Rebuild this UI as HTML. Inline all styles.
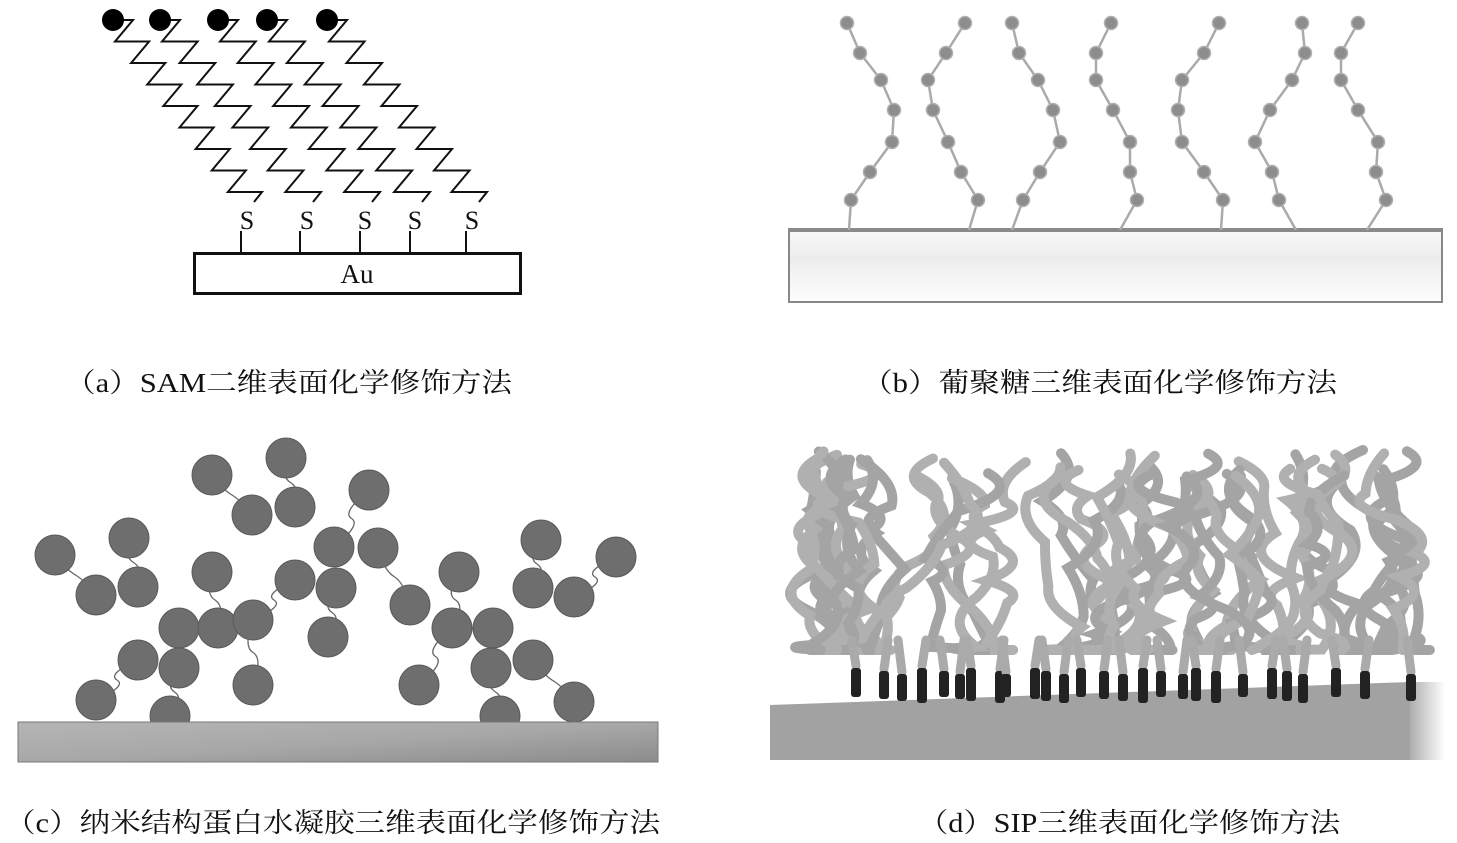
<!DOCTYPE html>
<html><head><meta charset="utf-8">
<style>
html,body{margin:0;padding:0;background:#fff;}
svg{display:block;}
.cap{font-family:"Liberation Serif","Noto Serif CJK SC",serif;font-size:27px;fill:#111;}
</style></head>
<body>
<svg id="s" width="1457" height="843" viewBox="0 0 1457 843" xmlns="http://www.w3.org/2000/svg">
<defs>
<linearGradient id="barc" x1="0" y1="0" x2="1" y2="1">
<stop offset="0" stop-color="#b5b5b5"/><stop offset="0.5" stop-color="#a8a8a8"/><stop offset="1" stop-color="#8c8c8c"/>
</linearGradient>
<linearGradient id="side" x1="0" y1="0" x2="1" y2="0">
<stop offset="0" stop-color="#a2a2a2"/><stop offset="1" stop-color="#ffffff"/>
</linearGradient>
<linearGradient id="bsurf" x1="0" y1="0" x2="0" y2="1">
<stop offset="0" stop-color="#fafafa"/><stop offset="0.4" stop-color="#ececec"/><stop offset="0.6" stop-color="#f3f3f3"/><stop offset="1" stop-color="#fdfdfd"/>
</linearGradient>
</defs>
<g id="a"></g>
<g font-family="Liberation Serif, serif" font-size="26" fill="#111" text-anchor="middle">
<text x="247" y="229">S</text><text x="307" y="229">S</text><text x="365" y="229">S</text><text x="415" y="229">S</text><text x="472" y="229">S</text>
</g>
<g stroke="#111" stroke-width="2">
<line x1="241" y1="231" x2="241" y2="253"/><line x1="300" y1="231" x2="300" y2="253"/><line x1="360" y1="231" x2="360" y2="253"/><line x1="410" y1="231" x2="410" y2="253"/><line x1="466" y1="231" x2="466" y2="253"/>
</g>
<rect x="194.5" y="253.5" width="326" height="40" fill="#fff" stroke="#111" stroke-width="3"/>
<text x="357" y="283" font-family="Liberation Serif, serif" font-size="27" text-anchor="middle" fill="#111">Au</text>

<rect x="789" y="229" width="653" height="73" fill="url(#bsurf)" stroke="#888" stroke-width="2"/>
<line x1="789" y1="230" x2="1442" y2="230" stroke="#8a8a8a" stroke-width="4"/>
<g id="b"></g>

<g id="c"></g>
<rect x="18" y="722" width="640" height="40" fill="url(#barc)" stroke="#777" stroke-width="1"/>

<polygon points="1405,682 1445,682 1445,760 1405,760" fill="url(#side)"/>
<polygon points="770,705 1410,682 1410,760 770,760" fill="#a2a2a2"/>
<g id="d"></g>

<text class="cap" x="65" y="392" textLength="447" lengthAdjust="spacingAndGlyphs">（a）SAM二维表面化学修饰方法</text>
<text class="cap" x="862" y="392" textLength="475" lengthAdjust="spacingAndGlyphs">（b）葡聚糖三维表面化学修饰方法</text>
<text class="cap" x="5" y="832" textLength="655" lengthAdjust="spacingAndGlyphs">（c）纳米结构蛋白水凝胶三维表面化学修饰方法</text>
<text class="cap" x="918" y="832" textLength="422" lengthAdjust="spacingAndGlyphs">（d）SIP三维表面化学修饰方法</text>
</svg>
<script>
var NS="http://www.w3.org/2000/svg";
function el(p,t,a){var e=document.createElementNS(NS,t);for(var k in a)e.setAttribute(k,a[k]);document.getElementById(p).appendChild(e);return e;}
var cx=[113,160,218,267,327],sx=[244,303,362,412,469];
for(var i=0;i<5;i++){
  var h=(sx[i]-cx[i]-2)/8+18;
  var x=cx[i],y=20,pts=[[x,y]];x+=20;pts.push([x,y]);
  for(var k=0;k<8;k++){x-=18;y+=21.5;pts.push([x,y]);x+=h;pts.push([x,y]);}
  x-=8;y+=10;pts.push([x,y]);
  el("a","polyline",{points:pts.map(function(p){return p.join(",")}).join(" "),fill:"none",stroke:"#111","stroke-width":2});
}
for(var i=0;i<5;i++)el("a","circle",{cx:cx[i],cy:20,r:11,fill:"#000"});
var B=[[847,860,881,894,892,870,851,849],[965,946,928,933,948,961,978,969],[1012,1019,1038,1053,1060,1040,1023,1012],[1111,1096,1096,1113,1130,1130,1137,1120],[1219,1204,1182,1178,1182,1204,1223,1221],[1302,1305,1292,1270,1255,1272,1279,1296],[1358,1341,1341,1358,1378,1376,1386,1367]];
var BY=[23,53,80,110,142,172,200,230];
B.forEach(function(c){
  var d="M"+c[0]+","+BY[0];for(var j=1;j<8;j++)d+=" L"+c[j]+","+BY[j];
  el("b","path",{d:d,fill:"none",stroke:"#aaa","stroke-width":2.5});
  for(var j=0;j<7;j++)el("b","circle",{cx:c[j],cy:BY[j],r:6.5,fill:"#8d8d8d",stroke:"#b0b0b0","stroke-width":1.5});
});
var C=[[55,555],[129,538],[96,595],[138,587],[212,475],[286,458],[252,515],[295,507],[369,490],[334,547],[378,548],[212,572],[295,580],[336,588],[179,628],[218,628],[253,620],[138,660],[179,668],[96,700],[170,716],[253,685],[328,637],[410,605],[459,572],[452,628],[493,628],[541,540],[616,557],[533,588],[574,597],[533,660],[491,668],[419,685],[574,702],[500,716]];
var L=[[55,555,96,595],[129,538,138,587],[212,475,252,515],[286,458,295,507],[369,490,334,547],[212,572,218,628],[253,620,253,685],[336,588,328,637],[138,660,96,700],[179,668,170,716],[378,548,410,605],[459,572,452,628],[541,540,533,588],[616,557,574,597],[533,660,574,702],[491,668,500,716],[452,628,419,685],[295,580,253,620]];
L.forEach(function(l){var mx=(l[0]+l[2])/2,my=(l[1]+l[3])/2;
 el("c","path",{d:"M"+l[0]+","+l[1]+" Q"+(mx-10)+","+(my-6)+" "+mx+","+my+" T"+l[2]+","+l[3],fill:"none",stroke:"#666","stroke-width":1.3});});
C.forEach(function(p){el("c","ellipse",{cx:p[0],cy:p[1],rx:20,ry:20,fill:"#6e6e6e",stroke:"#5a5a5a","stroke-width":1});});
var seed=7;function R(){seed=(seed*16807)%2147483647;return (seed-1)/2147483646;}
for(var i=0;i<55;i++){
  var x=815+R()*595,y=450+R()*35,d="M"+x.toFixed(1)+","+y.toFixed(1);
  for(var k=0;k<6;k++){var nx=x+(R()-0.5)*70,ny=y+22+R()*28;if(nx<810)nx=810;if(nx>1415)nx=1415;if(ny>650)ny=650;
    d+=" Q"+(x+(R()-0.5)*80).toFixed(1)+","+((y+ny)/2).toFixed(1)+" "+nx.toFixed(1)+","+ny.toFixed(1);x=nx;y=ny;}
  el("d","path",{d:d,fill:"none",stroke:(R()<0.5?"#b0b0b0":"#a4a4a4"),"stroke-width":10,"stroke-linecap":"round"});
}
var P=[856,884,902,922,944,960,971,1000,1006,1035,1046,1064,1081,1104,1123,1143,1161,1183,1196,1216,1243,1272,1287,1303,1336,1365,1411];
P.forEach(function(x,i){var t=668+(i%3)*3,b=697+(i%4)*2;
  el("d","line",{x1:x,y1:t-2,x2:x+(i%2?4:-4),y2:640,stroke:"#aaa","stroke-width":9,"stroke-linecap":"round"});
  el("d","rect",{x:x-5,y:t,width:10,height:b-t,rx:3,fill:"#222"});});
</script>
</body></html>
